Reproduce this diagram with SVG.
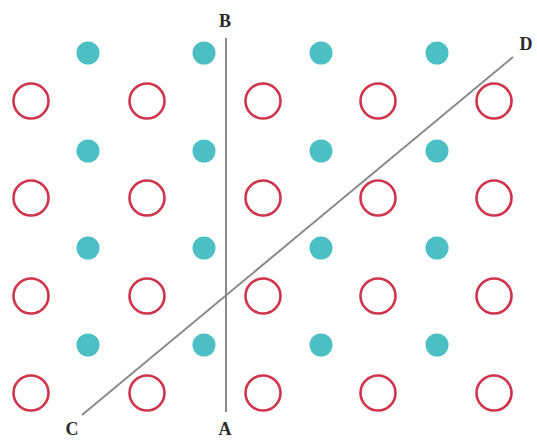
<svg xmlns="http://www.w3.org/2000/svg" width="537" height="440" viewBox="0 0 537 440">
<defs>
<style>
.r{fill:none;stroke:#d0344a;stroke-width:2.6}
.t{fill:#4bbfc3}
.ln{stroke:#8a8a8a;stroke-width:2;fill:none}
.lb{font-family:"Liberation Serif",serif;font-size:18px;font-weight:bold;fill:#2a2a2a;text-anchor:middle}
</style>
</defs>
<rect width="537" height="440" fill="#fff"/>
<g id="teal">
<circle class="t" cx="88" cy="53" r="11.5"/><circle class="t" cx="204" cy="53" r="11.5"/><circle class="t" cx="321" cy="53" r="11.5"/><circle class="t" cx="437" cy="53" r="11.5"/>
<circle class="t" cx="88" cy="151" r="11.5"/><circle class="t" cx="204" cy="151" r="11.5"/><circle class="t" cx="321" cy="151" r="11.5"/><circle class="t" cx="437" cy="151" r="11.5"/>
<circle class="t" cx="88" cy="248" r="11.5"/><circle class="t" cx="204" cy="248" r="11.5"/><circle class="t" cx="321" cy="248" r="11.5"/><circle class="t" cx="437" cy="248" r="11.5"/>
<circle class="t" cx="88" cy="345" r="11.5"/><circle class="t" cx="204" cy="345" r="11.5"/><circle class="t" cx="321" cy="345" r="11.5"/><circle class="t" cx="437" cy="345" r="11.5"/>
</g>
<g id="red">
<circle class="r" cx="31" cy="101" r="17.5"/><circle class="r" cx="147" cy="101" r="17.5"/><circle class="r" cx="263" cy="101" r="17.5"/><circle class="r" cx="378" cy="101" r="17.5"/><circle class="r" cx="494" cy="101" r="17.5"/>
<circle class="r" cx="31" cy="198" r="17.5"/><circle class="r" cx="147" cy="198" r="17.5"/><circle class="r" cx="263" cy="198" r="17.5"/><circle class="r" cx="378" cy="198" r="17.5"/><circle class="r" cx="494" cy="198" r="17.5"/>
<circle class="r" cx="31" cy="296" r="17.5"/><circle class="r" cx="147" cy="296" r="17.5"/><circle class="r" cx="263" cy="296" r="17.5"/><circle class="r" cx="378" cy="296" r="17.5"/><circle class="r" cx="494" cy="296" r="17.5"/>
<circle class="r" cx="31" cy="393" r="17.5"/><circle class="r" cx="147" cy="393" r="17.5"/><circle class="r" cx="263" cy="393" r="17.5"/><circle class="r" cx="378" cy="393" r="17.5"/><circle class="r" cx="494" cy="393" r="17.5"/>
</g>
<g id="lines">
<line class="ln" x1="226" y1="38" x2="226" y2="412"/>
<line class="ln" x1="82" y1="415" x2="513" y2="57"/>
</g>
<g id="labels">
<text class="lb" x="225" y="27">B</text>
<text class="lb" x="225" y="435">A</text>
<text class="lb" x="72" y="435">C</text>
<text class="lb" x="526" y="50">D</text>
</g>
</svg>
